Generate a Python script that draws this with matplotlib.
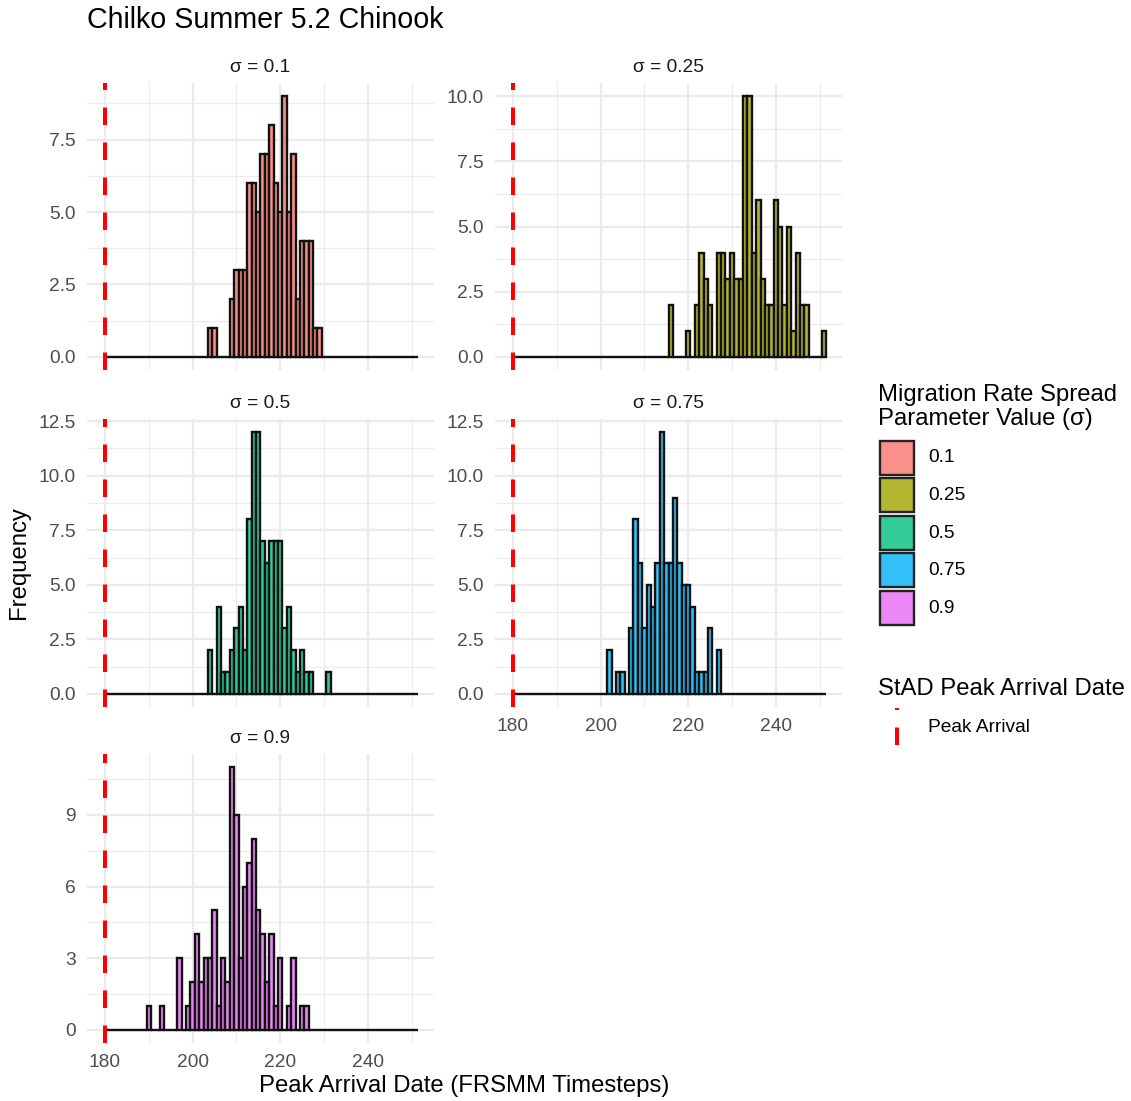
import numpy as np
import matplotlib
matplotlib.use("Agg")
import matplotlib.pyplot as plt
from matplotlib.patches import Rectangle
from matplotlib.colors import to_rgba

plt.rcParams['font.family'] = ['Liberation Sans', 'DejaVu Sans']
plt.rcParams['lines.scale_dashes'] = False

# ---------------- data ----------------
title = "Chilko Summer 5.2 Chinook"
x_label = "Peak Arrival Date (FRSMM Timesteps)"
y_label = "Frequency"
legend_title = ["Migration Rate Spread", "Parameter Value (\u03c3)"]
legend2_title = "StAD Peak Arrival Date"
legend2_label = "Peak Arrival"

sigma_labels = ["0.1", "0.25", "0.5", "0.75", "0.9"]
fill_colors = ["#F8766D", "#A3A500", "#00BF7D", "#00B0F6", "#E76BF3"]
peak_arrival = 180
bin_first, bin_last = 180, 251   # histogram bin centres (binwidth 1)

days_s01 = [204, 205, 209, 210, 211, 212, 213, 214, 215, 216, 217, 218, 219,
            220, 221, 222, 223, 224, 225, 226, 227, 228, 229]
counts_s01 = [1, 1, 2, 3, 3, 3, 6, 6, 5, 7, 7, 8, 6,
              5, 9, 5, 7, 2, 4, 4, 4, 1, 1]

days_s025 = [216, 220, 222, 223, 224, 225, 227, 228, 229, 230, 231, 232, 233,
             234, 235, 236, 237, 238, 239, 240, 241, 242, 243, 244, 245, 246,
             247, 251]
counts_s025 = [2, 1, 2, 4, 3, 2, 4, 4, 3, 4, 3, 3, 10,
               10, 4, 6, 3, 2, 2, 6, 5, 2, 5, 1, 4, 2,
               2, 1]

days_s05 = [204, 206, 207, 208, 209, 210, 211, 212, 213, 214, 215, 216, 217,
            218, 219, 220, 221, 222, 223, 224, 225, 226, 227, 231]
counts_s05 = [2, 4, 1, 1, 2, 3, 4, 2, 8, 12, 12, 7, 6,
              7, 7, 7, 3, 4, 2, 1, 2, 1, 1, 1]

days_s075 = [202, 204, 205, 207, 208, 209, 210, 211, 212, 213, 214, 215, 216,
             217, 218, 219, 220, 221, 222, 223, 224, 225, 227]
counts_s075 = [2, 1, 1, 3, 8, 6, 3, 5, 4, 6, 12, 6, 6,
               9, 6, 5, 5, 4, 1, 1, 1, 3, 2]

days_s09 = [190, 193, 197, 199, 200, 201, 202, 203, 204, 205, 206, 207, 208,
            209, 210, 211, 212, 213, 214, 215, 216, 217, 218, 219, 220, 222,
            223, 225, 226]
counts_s09 = [1, 1, 3, 1, 2, 4, 2, 3, 3, 5, 1, 3, 2,
              11, 9, 3, 6, 7, 8, 5, 4, 2, 4, 1, 3, 1,
              3, 1, 1]

panel_days = [days_s01, days_s025, days_s05, days_s075, days_s09]
panel_counts = [counts_s01, counts_s025, counts_s05, counts_s075, counts_s09]

y_ticks = [[0, 2.5, 5.0, 7.5], [0, 2.5, 5.0, 7.5, 10.0],
           [0, 2.5, 5.0, 7.5, 10.0, 12.5], [0, 2.5, 5.0, 7.5, 10.0, 12.5],
           [0, 3, 6, 9]]
y_fmt = ["{:.1f}", "{:.1f}", "{:.1f}", "{:.1f}", "{:.0f}"]
x_major = [180, 200, 220, 240]
x_minor = [190, 210, 230, 250]

# ---------------- layout ----------------
W, H = 1131, 1101
fig = plt.figure(figsize=(W / 100, H / 100), dpi=100)
fig.patch.set_facecolor("white")

col_x = [(87, 434), (495, 842)]
row_y = [(83, 370), (419, 707), (754, 1043)]
slots = [(0, 0), (0, 1), (1, 0), (1, 1), (2, 0)]
show_x_labels = [False, False, False, True, True]

grid_col = "#EBEBEB"
tick_col = "#4D4D4D"
fs_tick = 13.75
fs_axis = 17.2
fs_title = 20.6
alpha = 0.8
edge_lw = 1.7
edge_col = "#111111"

ov = fig.add_axes([0, 0, 1, 1], zorder=10)
ov.set_xlim(0, W)
ov.set_ylim(H, 0)
ov.set_axis_off()
ov.patch.set_visible(False)

bins = np.arange(bin_first, bin_last + 1)
dash_px = 17.5
dash_pt = dash_px * 0.72

for i in range(5):
    r, c = slots[i]
    l, rr = col_x[c]
    t, b = row_y[r]
    ax = fig.add_axes([l / W, 1 - b / H, (rr - l) / W, (b - t) / H])
    counts_full = np.zeros(len(bins))
    for d, n in zip(panel_days[i], panel_counts[i]):
        counts_full[d - bin_first] = n
    ymax = counts_full.max()
    span = (bin_last + 0.5) - (bin_first - 0.5)
    xlim = (bin_first - 0.5 - 0.05 * span, bin_last + 0.5 + 0.05 * span)
    ylim = (-0.05 * ymax, ymax * 1.05)

    ax.bar(bins, counts_full, width=1.0, align="center",
           color=to_rgba(fill_colors[i], alpha), edgecolor=edge_col,
           linewidth=edge_lw, zorder=2)
    ax.plot([peak_arrival, peak_arrival], [0, 1],
            transform=ax.get_xaxis_transform(), color="red", lw=2.9,
            dashes=(dash_pt, dash_pt), dash_capstyle="butt", zorder=3)

    yt = y_ticks[i]
    step = yt[1] - yt[0]
    ax.set_yticks(yt)
    ax.set_yticklabels([y_fmt[i].format(v) for v in yt])
    ym = [v + step / 2 for v in yt if v + step / 2 < ylim[1]]
    ax.set_yticks(ym, minor=True)
    ax.set_xticks(x_major)
    ax.set_xticks(x_minor, minor=True)
    if show_x_labels[i]:
        ax.set_xticklabels([str(v) for v in x_major])
    else:
        ax.set_xticklabels([])
    ax.set_xlim(*xlim)
    ax.set_ylim(*ylim)
    ax.tick_params(which="both", length=0)
    ax.tick_params(axis="y", pad=7.9, labelsize=fs_tick, labelcolor=tick_col)
    ax.tick_params(axis="x", pad=7.6, labelsize=fs_tick, labelcolor=tick_col)
    ax.grid(which="major", color=grid_col, lw=1.66)
    ax.grid(which="minor", color=grid_col, lw=0.83)
    ax.set_axisbelow(True)
    for s in ax.spines.values():
        s.set_visible(False)
    ax.patch.set_visible(False)

    ov.text((l + rr) / 2, t - 11, "\u03c3 = " + sigma_labels[i], ha="center",
            va="baseline", fontsize=fs_tick, color="#1A1A1A")

# titles
ov.text(87, 27.5, title, ha="left", va="baseline", fontsize=fs_title, color="black")
ov.text((87 + 842) / 2, 1092, x_label, ha="center", va="baseline",
        fontsize=fs_axis, color="black")
ov.text(19, (83 + 1043) / 2, y_label, ha="center", va="center", rotation=90,
        fontsize=fs_axis, color="black")

# legend 1
ov.text(878, 401, legend_title[0], ha="left", va="baseline", fontsize=fs_axis)
ov.text(878, 425, legend_title[1], ha="left", va="baseline", fontsize=fs_axis)
for i, lab in enumerate(sigma_labels):
    top = 440.5 + i * 37.6
    ov.add_patch(Rectangle((880, top), 34, 34, facecolor=to_rgba(fill_colors[i], alpha),
                           edgecolor="#222222", linewidth=edge_lw))
    ov.text(928, top + 17.5, lab, ha="left", va="center", fontsize=fs_tick)

# legend 2
ov.text(878, 695, legend2_title, ha="left", va="baseline", fontsize=fs_axis)
ov.plot([897, 897], [745, 708], color="red", lw=2.9, dashes=(dash_pt, dash_pt),
        dash_capstyle="butt")
ov.text(928, 727, legend2_label, ha="left", va="center", fontsize=fs_tick)

fig.savefig("out.png", dpi=100, facecolor="white")
